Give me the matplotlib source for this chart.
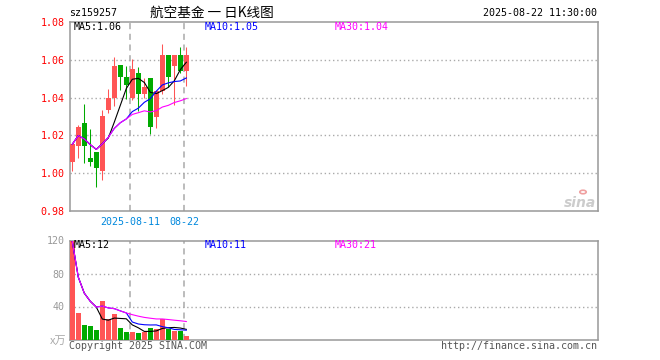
import numpy as np
from matplotlib import pyplot as plt

# daily candles, 2025-07-28 .. 2025-08-22
dates = ["07-28", "07-29", "07-30", "07-31", "08-01", "08-04", "08-05", "08-06", "08-07", "08-08",
         "08-11", "08-12", "08-13", "08-14", "08-15", "08-18", "08-19", "08-20", "08-21", "08-22"]
opens = [1.0061, 1.0146, 1.0265, 1.0081, 1.0112, 1.0014, 1.0333, 1.0398, 1.0575, 1.0507,
         1.0398, 1.0528, 1.0421, 1.0505, 1.0298, 1.0433, 1.0628, 1.0567, 1.0628, 1.0540]
highs = [1.0153, 1.0254, 1.0365, 1.0233, 1.0112, 1.0333, 1.0447, 1.0617, 1.0575, 1.0565,
         1.0605, 1.0561, 1.0505, 1.0505, 1.0433, 1.0681, 1.0628, 1.0628, 1.0670, 1.0670]
lows = [1.0009, 1.0079, 1.0056, 1.0039, 0.9926, 0.9965, 1.0319, 1.0354, 1.0440, 1.0395,
        1.0386, 1.0330, 1.0398, 1.0210, 1.0240, 1.0421, 1.0456, 1.0360, 1.0530, 1.0460]
closes = [1.0153, 1.0244, 1.0146, 1.0061, 1.0025, 1.0302, 1.0396, 1.0565, 1.0509, 1.0467,
          1.0549, 1.0421, 1.0454, 1.0247, 1.0433, 1.0628, 1.0509, 1.0628, 1.0540, 1.0628]

ma5 = [1.0153, 1.0199, 1.0181, 1.0151, 1.0126, 1.0156, 1.0186, 1.0270, 1.0359, 1.0448,
       1.0497, 1.0502, 1.0480, 1.0428, 1.0421, 1.0437, 1.0454, 1.0489, 1.0548, 1.0587]
ma10 = [1.0153, 1.0199, 1.0181, 1.0151, 1.0126, 1.0155, 1.0190, 1.0237, 1.0267, 1.0287,
        1.0326, 1.0344, 1.0375, 1.0394, 1.0434, 1.0467, 1.0478, 1.0485, 1.0488, 1.0504]
ma30 = [1.0153, 1.0199, 1.0181, 1.0151, 1.0126, 1.0155, 1.0190, 1.0237, 1.0267, 1.0287,
        1.0311, 1.0320, 1.0330, 1.0324, 1.0331, 1.0350, 1.0359, 1.0374, 1.0383, 1.0395]

# volume (x万)
vols = [119, 32.2, 17.4, 16.6, 11.4, 46.2, 25.4, 30.6, 13.8, 9.4,
        9.4, 7.8, 8.6, 13.8, 12.2, 24.6, 12.2, 10.2, 10.2, 4.2]
vma5 = [119, 75.6, 56.2, 46.3, 39.3, 24.8, 23.4, 26.0, 25.5, 25.1,
        17.7, 14.2, 9.8, 9.8, 10.4, 13.4, 14.3, 14.6, 13.9, 12.3]
vma10 = [119, 75.6, 56.2, 46.3, 39.3, 40.5, 38.3, 37.4, 34.7, 32.2,
         21.2, 18.8, 17.9, 17.6, 17.7, 15.6, 14.2, 12.2, 11.8, 11.3]
vma30 = [119, 75.6, 56.2, 46.3, 39.3, 40.5, 38.3, 37.4, 34.7, 32.2,
         30.1, 28.3, 26.8, 25.8, 24.9, 24.9, 24.2, 23.4, 22.7, 21.8]

price_ticks = [0.98, 1.00, 1.02, 1.04, 1.06, 1.08]
vol_ticks = [40, 80, 120]
date_marks = {10: "2025-08-11", 19: "08-22"}

RED = "#ff5555"
GREEN = "#00aa00"
FRAME = "#999999"
MONO = "DejaVu Sans Mono"
CJK = ["Noto Sans CJK SC", "DejaVu Sans"]
FS = 7.2
LW = 0.8

W, H = 660, 360


def px(x0, y0, x1, y1):
    return [x0 / W, 1 - y1 / H, (x1 - x0) / W, (y1 - y0) / H]


def ftext(x, y, s, **kw):
    kw.setdefault("family", MONO)
    kw.setdefault("fontsize", FS)
    kw.setdefault("va", "center")
    fig.text(x / W, 1 - y / H, s, **kw)


def frame(ax, labcolor):
    for sp in ax.spines.values():
        sp.set_color(FRAME)
        sp.set_linewidth(1.1)
    ax.set_xticks([])
    ax.set_xlim(-0.38, 87.5)
    ax.tick_params(axis="y", length=0, pad=4, labelsize=FS, labelcolor=labcolor)
    for lab in ax.get_yticklabels():
        lab.set_family(MONO)


x = np.arange(len(closes))
o = np.array(opens)
c = np.array(closes)
up = c >= o
cols = np.where(up, RED, GREEN)

fig = plt.figure(figsize=(6.6, 3.6), dpi=100)

# price panel
ax = fig.add_axes(px(70, 22, 597.5, 211))
ax.vlines(x, lows, highs, colors=cols, linewidth=0.75, zorder=2)
body = np.maximum(np.abs(c - o), 0.0003)
ax.bar(x, body, bottom=np.minimum(o, c), width=0.83, color=cols, zorder=3)
ax.plot(x, ma5, color="black", lw=LW, zorder=4)
ax.plot(x, ma10, color="#0000ff", lw=LW, zorder=5)
ax.plot(x, ma30, color="#ff00ff", lw=LW, zorder=6)
for v in price_ticks[1:-1]:
    ax.axhline(v, color="#aaaaaa", ls=(0, (1, 2)), lw=1.0, zorder=1)
for i in date_marks:
    ax.axvline(i - 0.33, color="#aaaaaa", ls=(0, (4, 3)), lw=1.1, zorder=1)
ax.set_ylim(0.98, 1.08)
ax.set_yticks(price_ticks)
ax.set_yticklabels([f"{v:.2f}" for v in price_ticks])
frame(ax, "red")

# volume panel
axv = fig.add_axes(px(70, 240.5, 597.5, 339.5))
axv.bar(x, vols, width=0.83, color=cols, zorder=3)
axv.plot(x, vma5, color="black", lw=LW, zorder=4)
axv.plot(x, vma10, color="#0000ff", lw=LW, zorder=5)
axv.plot(x, vma30, color="#ff00ff", lw=LW, zorder=6)
for v in vol_ticks[:-1]:
    axv.axhline(v, color="#aaaaaa", ls=(0, (1, 2)), lw=1.0, zorder=1)
for i in date_marks:
    axv.axvline(i - 0.33, color="#aaaaaa", ls=(0, (4, 3)), lw=1.1, zorder=1)
axv.set_ylim(0, 120)
axv.set_yticks(vol_ticks)
axv.set_yticklabels([str(v) for v in vol_ticks])
frame(axv, "#999999")

# header
ftext(69, 13, "sz159257")
ftext(150, 13, "航空基金 一 日K线图", family=CJK, fontsize=9.8)
ftext(597, 13, "2025-08-22 11:30:00", ha="right")

ftext(74, 27, f"MA5:{ma5[-1]:.2f}", color="black")
ftext(205, 27, f"MA10:{ma10[-1]:.2f}", color="#0000ff")
ftext(335, 27, f"MA30:{ma30[-1]:.2f}", color="#ff00ff")

ftext(74, 245.5, f"MA5:{vma5[-1]:.0f}", color="black")
ftext(205, 245.5, "MA10:11", color="#0000ff")
ftext(335, 245.5, "MA30:21", color="#ff00ff")

for i, lab in date_marks.items():
    xp = 72.3 + 6 * (i - 0.33)
    ftext(xp, 222, lab, ha="center", color="#0088dd")

ftext(66, 341, "x万", family=CJK, ha="right", color="#aaaaaa", fontsize=8)
ftext(69, 346, "Copyright 2025 SINA.COM", color="#555555")
ftext(597, 346, "http://finance.sina.com.cn", ha="right", color="#555555")

# sina watermark
ftext(596, 203, "sina", ha="right", color="#cccccc", family="DejaVu Sans",
      fontsize=10, style="italic", weight="bold")
fig.patches.append(plt.Circle((583 / W, 1 - 192 / H), 3.2 / W, transform=fig.transFigure,
                              facecolor="none", edgecolor="#f0a0a0", lw=1.2))

fig.savefig("out.png", dpi=100)
plt.close()
